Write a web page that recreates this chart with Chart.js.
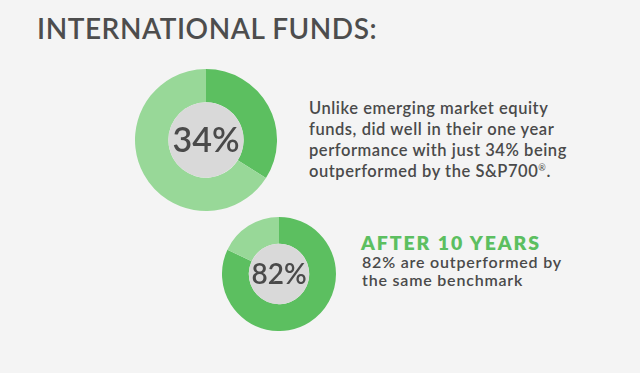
<!DOCTYPE html>
<html>
<head>
<meta charset="utf-8">
<script src="https://cdn.jsdelivr.net/npm/chart.js@4"></script>
<style>
  html, body { margin: 0; padding: 0; }
  body {
    width: 640px; height: 373px; background: #f4f4f4; position: relative; overflow: hidden;
    font-family: Lato, "Open Sans", sans-serif; color: #4a4a4a;
  }
  h1 {
    position: absolute; left: 37px; top: 11px; margin: 0;
    font-size: 28px; font-weight: 600; letter-spacing: 0.55px; color: #4d4d4d;
  }
  canvas { position: absolute; }
  #donaUno { left: 135px; top: 69px; }
  #donaDos { left: 222px; top: 217px; }
  .texto { position: absolute; margin: 0; white-space: nowrap; }
  #textoUno { left: 309px; top: 98px; font-size: 16.5px; line-height: 21px; font-weight: 600; letter-spacing: 0.55px; }
  #titDos { left: 361px; top: 231px; font-size: 19.5px; font-weight: 800; letter-spacing: 1.9px; color: #5cbf60; }
  #textoDos { left: 362px; top: 253px; font-size: 16px; line-height: 17.5px; font-weight: 600; letter-spacing: 0.8px; }
  sup { font-size: 9px; font-weight: 400; line-height: 0; vertical-align: 6px; }
</style>
</head>
<body>
<h1>INTERNATIONAL FUNDS:</h1>
<canvas id="donaUno" width="142" height="142"></canvas>
<canvas id="donaDos" width="114" height="114"></canvas>
<p class="texto" id="textoUno">Unlike emerging market equity<br>funds, did well in their one year<br>performance with just 34% being<br>outperformed by the S&amp;P700<sup>®</sup>.</p>
<p class="texto" id="titDos">AFTER 10 YEARS</p>
<p class="texto" id="textoDos">82% are outperformed by<br>the same benchmark</p>
<script>
// Datos de las dos donas
const etiquetas = ["Superados por el S&P700", "No superados"];
const valoresUnAnio = [34, 66];
const valoresDiezAnios = [82, 18];
const textosCentro = ["34%", "82%"];

const verdeOscuro = "#5cbf60";
const verdeClaro = "#98d898";

// Plugin para pintar el circulo gris y el porcentaje en el centro
const centroPlugin = {
    id: 'centro',
    afterDatasetsDraw(chart, args, opts) {
        const arco = chart.getDatasetMeta(0).data[0];
        const ctx = chart.ctx;
        ctx.save();
        ctx.beginPath();
        ctx.arc(arco.x, arco.y, arco.innerRadius, 0, Math.PI * 2);
        ctx.fillStyle = "#d9d9d9";
        ctx.fill();
        ctx.fillStyle = "#4a4a4a";
        ctx.font = "600 " + opts.size + "px Lato, 'Open Sans', sans-serif";
        ctx.textAlign = "center";
        ctx.textBaseline = "middle";
        ctx.fillText(opts.texto, arco.x, arco.y + 1);
        ctx.restore();
    }
};

function crearDona(id, valores, texto, size) {
    const ctx = document.getElementById(id).getContext('2d');
    return new Chart(ctx, {
        type: 'doughnut',
        data: {
            labels: etiquetas,
            datasets: [{
                data: valores,
                backgroundColor: [verdeOscuro, verdeClaro],
                borderWidth: 0
            }]
        },
        options: {
            responsive: false,
            animation: false,
            cutout: '53%',
            plugins: {
                legend: { display: false },
                tooltip: { enabled: false },
                centro: { texto: texto, size: size }
            }
        },
        plugins: [centroPlugin]
    });
}

crearDona('donaUno', valoresUnAnio, textosCentro[0], 34);
crearDona('donaDos', valoresDiezAnios, textosCentro[1], 28);
</script>
</body>
</html>
